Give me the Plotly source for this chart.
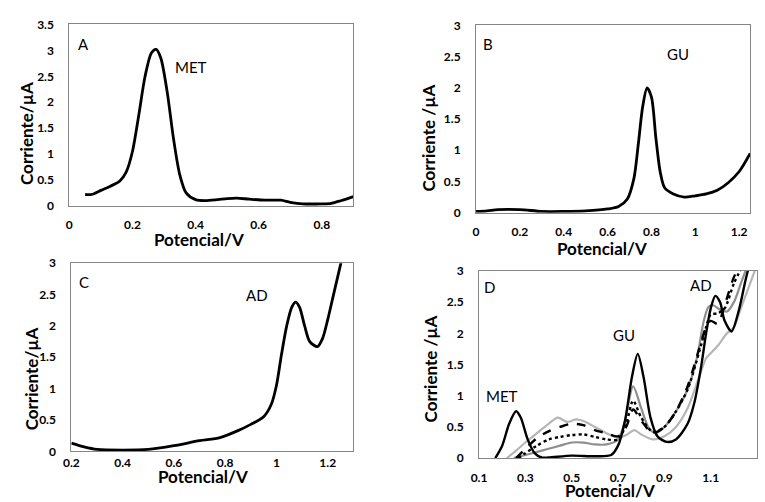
import plotly.graph_objects as go

# ---- Panel A: metformin (MET) voltammogram ----
a_x = [0.05, 0.07, 0.10, 0.13, 0.16, 0.18, 0.20, 0.22, 0.24, 0.26, 0.275, 0.29, 0.31, 0.33,
       0.35, 0.37, 0.40, 0.43, 0.47, 0.50, 0.53, 0.57, 0.62, 0.67, 0.70, 0.74, 0.80, 0.83,
       0.86, 0.90]
a_y = [0.22, 0.22, 0.30, 0.38, 0.48, 0.65, 1.05, 1.75, 2.50, 2.95, 3.02, 2.85, 2.20, 1.30,
       0.60, 0.25, 0.12, 0.10, 0.12, 0.14, 0.15, 0.13, 0.11, 0.11, 0.07, 0.04, 0.04, 0.05,
       0.10, 0.18]

# ---- Panel B: guaiacol (GU) voltammogram ----
b_x = [0.00, 0.05, 0.10, 0.20, 0.30, 0.40, 0.50, 0.60, 0.65, 0.69, 0.72, 0.74, 0.76, 0.78,
       0.80, 0.82, 0.84, 0.86, 0.90, 0.95, 1.00, 1.05, 1.10, 1.15, 1.20, 1.25]
b_y = [0.02, 0.03, 0.05, 0.05, 0.02, 0.02, 0.03, 0.06, 0.10, 0.22, 0.55, 1.10, 1.70, 2.00,
       1.85, 1.20, 0.65, 0.40, 0.30, 0.25, 0.27, 0.30, 0.36, 0.48, 0.66, 0.95]

# ---- Panel C: AD voltammogram ----
c_x = [0.20, 0.25, 0.30, 0.40, 0.50, 0.60, 0.70, 0.78, 0.85, 0.90, 0.95, 0.98, 1.00, 1.02,
       1.04, 1.06, 1.075, 1.09, 1.11, 1.13, 1.16, 1.18, 1.20, 1.22, 1.24, 1.26]
c_y = [0.13, 0.07, 0.03, 0.02, 0.03, 0.09, 0.17, 0.22, 0.33, 0.43, 0.55, 0.75, 1.05, 1.55,
       2.00, 2.30, 2.38, 2.30, 2.00, 1.75, 1.67, 1.80, 2.10, 2.45, 2.80, 3.15]

# ---- Panel D: mixtures, five recordings ----
d1_x = [0.17, 0.20, 0.23, 0.26, 0.28, 0.31, 0.34, 0.37, 0.40, 0.50, 0.60, 0.67, 0.70, 0.73,
        0.76, 0.785, 0.81, 0.84, 0.87, 0.91, 0.95, 1.00, 1.03, 1.06, 1.08, 1.10, 1.12, 1.14,
        1.16, 1.19, 1.22, 1.25, 1.27]
d1_y = [0.00, 0.20, 0.55, 0.75, 0.65, 0.30, 0.08, 0.01, 0.01, 0.04, 0.03, 0.05, 0.20, 0.60,
        1.30, 1.67, 1.30, 0.65, 0.35, 0.26, 0.30, 0.55, 0.90, 1.50, 2.00, 2.40, 2.60, 2.50,
        2.20, 2.03, 2.35, 2.85, 3.15]

d2_x = [0.26, 0.30, 0.35, 0.40, 0.45, 0.50, 0.55, 0.60, 0.65, 0.70, 0.735, 0.765, 0.80, 0.85,
        0.90, 0.95, 1.00, 1.05, 1.08, 1.10, 1.13, 1.16, 1.20, 1.23]
d2_y = [0.00, 0.15, 0.32, 0.43, 0.50, 0.55, 0.53, 0.45, 0.40, 0.35, 0.50, 0.78, 0.60, 0.40,
        0.50, 0.75, 1.15, 1.75, 2.10, 2.20, 2.15, 2.45, 2.90, 3.10]

d3_x = [0.27, 0.30, 0.35, 0.40, 0.45, 0.50, 0.55, 0.60, 0.65, 0.70, 0.735, 0.765, 0.80, 0.85,
        0.90, 0.95, 1.00, 1.05, 1.08, 1.10, 1.13, 1.16, 1.20, 1.24]
d3_y = [0.00, 0.08, 0.20, 0.30, 0.34, 0.37, 0.38, 0.34, 0.30, 0.30, 0.55, 0.92, 0.65, 0.42,
        0.50, 0.75, 1.10, 1.70, 2.10, 2.30, 2.32, 2.40, 2.80, 3.10]

d4_x = [0.22, 0.26, 0.30, 0.35, 0.40, 0.44, 0.48, 0.52, 0.56, 0.60, 0.65, 0.70, 0.74, 0.77,
        0.80, 0.85, 0.90, 0.95, 1.00, 1.05, 1.08, 1.10, 1.13, 1.17, 1.20, 1.23, 1.27, 1.30]
d4_y = [0.00, 0.12, 0.25, 0.40, 0.55, 0.65, 0.58, 0.62, 0.58, 0.50, 0.40, 0.33, 0.38, 0.45,
        0.38, 0.30, 0.35, 0.50, 0.80, 1.30, 1.60, 1.68, 1.80, 2.00, 2.10, 2.40, 2.80, 3.10]

d5_x = [0.25, 0.30, 0.35, 0.40, 0.45, 0.50, 0.55, 0.60, 0.65, 0.70, 0.73, 0.765, 0.80, 0.83,
        0.86, 0.90, 0.95, 1.00, 1.04, 1.07, 1.09, 1.11, 1.14, 1.17, 1.20, 1.23, 1.26]
d5_y = [0.00, 0.05, 0.10, 0.15, 0.20, 0.25, 0.25, 0.22, 0.22, 0.30, 0.60, 1.15, 0.80, 0.50,
        0.40, 0.50, 0.75, 1.10, 1.60, 2.20, 2.42, 2.45, 2.38, 2.35, 2.50, 2.80, 3.10]

# ---- Axis ticks ----
a_yticks = [0, 0.5, 1, 1.5, 2, 2.5, 3, 3.5]
a_xticks = [0, 0.2, 0.4, 0.6, 0.8]
b_xticks = [0, 0.2, 0.4, 0.6, 0.8, 1, 1.2]
c_xticks = [0.2, 0.4, 0.6, 0.8, 1, 1.2]
d_xticks = [0.1, 0.3, 0.5, 0.7, 0.9, 1.1, 1.3]
bcd_yticks = [0, 0.5, 1, 1.5, 2, 2.5, 3]

FONT = "Lato"
BLACK = "#000000"
GRAY_DARK = "#8f8f8f"
GRAY_LIGHT = "#b5b5b5"

fig = go.Figure()


def add_line(x, y, xa, ya, color, width=2.6, dash="solid"):
    fig.add_trace(go.Scatter(
        x=x, y=y, xaxis=xa, yaxis=ya, mode="lines",
        line=dict(color=color, width=width, dash=dash, shape="spline", smoothing=0.8),
        showlegend=False, hoverinfo="skip"))


add_line(a_x, a_y, "x", "y", BLACK, 2.8)
add_line(b_x, b_y, "x2", "y2", BLACK, 2.8)
add_line(c_x, c_y, "x3", "y3", BLACK, 2.8)
add_line(d4_x, d4_y, "x4", "y4", GRAY_LIGHT, 2.2)
add_line(d5_x, d5_y, "x4", "y4", GRAY_DARK, 2.2)
add_line(d3_x, d3_y, "x4", "y4", BLACK, 2.4, "dot")
add_line(d2_x, d2_y, "x4", "y4", BLACK, 2.4, "dash")
add_line(d1_x, d1_y, "x4", "y4", BLACK, 2.4)

W, H = 765, 502


def px_x(p):
    return p / W


def px_y(p):
    return 1 - p / H


tickfont = dict(family=FONT, size=12, color="#000000", weight="bold")


def axis_style(domain, rng, ticks, anchor, standoff):
    return dict(domain=domain, range=rng, tickvals=ticks, anchor=anchor,
                showgrid=False, zeroline=False, showline=True, mirror=True,
                linecolor="#868686", linewidth=1, ticks="",
                tickfont=tickfont, ticklabelstandoff=standoff, fixedrange=True)


layout = dict(
    width=W, height=H, margin=dict(l=0, r=0, t=0, b=0),
    paper_bgcolor="white", plot_bgcolor="white",
    xaxis=axis_style([px_x(62), px_x(349)], [0, 0.9], a_xticks, "y", 8),
    yaxis=axis_style([px_y(204), px_y(17)], [0, 3.5], a_yticks, "x", 12),
    xaxis2=axis_style([px_x(473), px_x(750)], [0, 1.25], b_xticks, "y2", 8),
    yaxis2=axis_style([px_y(211), px_y(18)], [0, 3], bcd_yticks, "x2", 12),
    xaxis3=axis_style([px_x(64), px_x(349)], [0.2, 1.3], c_xticks, "y3", 0),
    yaxis3=axis_style([px_y(457), px_y(263)], [0, 3], bcd_yticks, "x3", 12),
    xaxis4=axis_style([px_x(476), px_x(757)], [0.1, 1.3], d_xticks, "y4", 8),
    yaxis4=axis_style([px_y(464), px_y(271)], [0, 3], bcd_yticks, "x4", 12),
)
fig.update_layout(**layout)

title_font = dict(family=FONT, size=17, color="#000000", weight="bold")
label_font = dict(family=FONT, size=15, color="#000000")

annotations = []

# axis titles (paper coordinates)
for text, cx, cy, angle in [
    ("Potencial/V", 193, 239, 0),
    ("Potencial/V", 600, 248, 0),
    ("Potencial/V", 197, 483, 0),
    ("Potencial/V", 608, 497, 0),
    ("Corriente/µA", 18, 129, -90),
    ("Corriente /µA", 45 + 380, 134, -90),
    ("Corriente/µA", 24, 382, -90),
    ("Corriente /µA", 47 + 380, 372, -90),
]:
    annotations.append(dict(text=text, x=px_x(cx), y=px_y(cy), xref="paper", yref="paper",
                            xanchor="center", yanchor="middle", showarrow=False,
                            textangle=angle, font=title_font))

# panel letters and peak labels (data coordinates)
for text, xr, yr, x, y in [
    ("A", "x", "y", 0.044, 3.13), ("MET", "x", "y", 0.385, 2.68),
    ("B", "x2", "y2", 0.054, 2.70), ("GU", "x2", "y2", 0.92, 2.55),
    ("C", "x3", "y3", 0.25, 2.70), ("AD", "x3", "y3", 0.925, 2.49),
    ("D", "x4", "y4", 0.147, 2.74), ("AD", "x4", "y4", 1.057, 2.78),
    ("GU", "x4", "y4", 0.724, 1.97), ("MET", "x4", "y4", 0.20, 1.00),
]:
    annotations.append(dict(text=text, x=x, y=y, xref=xr, yref=yr,
                            xanchor="center", yanchor="middle", showarrow=False,
                            font=label_font))

fig.update_layout(annotations=annotations)

fig.write_html("out.html")
